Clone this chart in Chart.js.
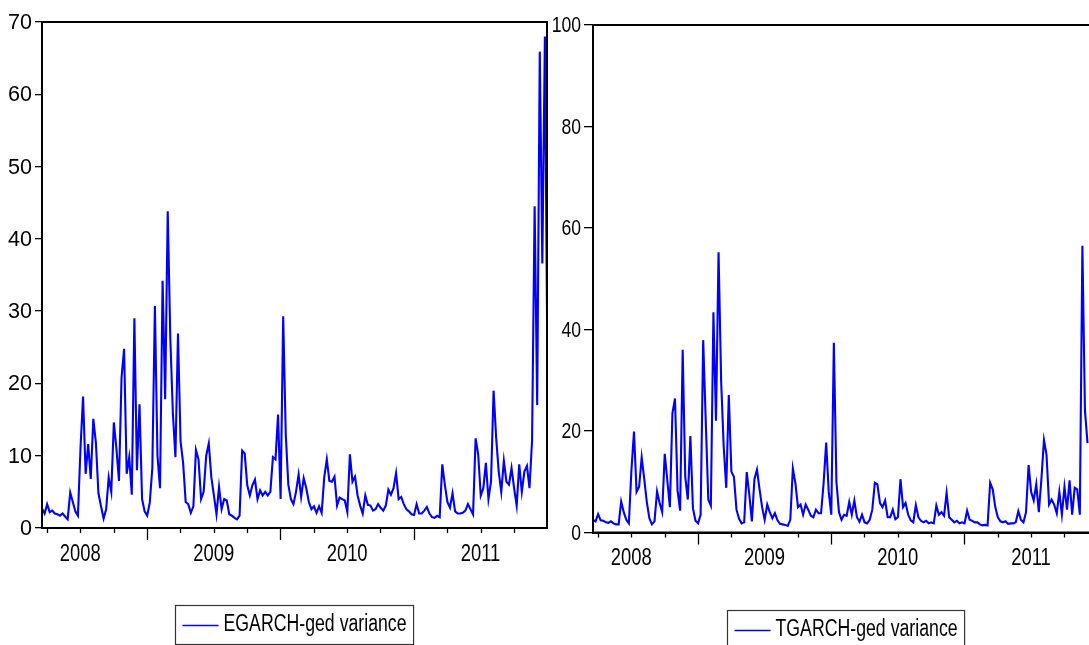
<!DOCTYPE html>
<html>
<head>
<meta charset="utf-8">
<script src="https://cdn.jsdelivr.net/npm/chart.js@4.4.0/dist/chart.umd.min.js"></script>
<style>
  html, body { margin: 0; padding: 0; background: #fff; overflow: hidden; width: 1089px; height: 645px; }
  canvas { position: absolute; top: 0; }
  #egarchChart { left: 0; }
  #tgarchChart { left: 550px; }
</style>
</head>
<body>
<canvas id="egarchChart" width="552" height="645"></canvas>
<canvas id="tgarchChart" width="560" height="645"></canvas>
<script>
// weekly observations, first one in mid Sept 2007
const startYear = 2007.713;
const weekStep = 1 / 52;
const endYear = 2011.498;

const yearTicks = [2008, 2009, 2010, 2011];
const egarchTicks = [0, 10, 20, 30, 40, 50, 60, 70];
const tgarchTicks = [0, 20, 40, 60, 80, 100];

const egarchVariance = [
  2.7, 2.0, 3.3, 2.2, 2.4, 2.0, 1.9, 1.7, 2.0, 1.6,
  1.2, 4.9, 3.6, 2.3, 1.7, 11.0, 18.2, 7.5, 11.6, 6.8,
  15.1, 11.8, 4.8, 3.0, 1.3, 2.6, 7.0, 5.0, 14.6, 11.0,
  6.5, 20.8, 24.8, 7.5, 9.8, 4.6, 29.0, 8.0, 17.1, 4.0,
  2.3, 1.7, 3.5, 8.3, 30.7, 10.0, 5.5, 34.2, 17.8, 43.8,
  26.4, 15.9, 9.8, 26.9, 12.0, 9.0, 3.6, 3.3, 2.1, 3.0,
  10.8, 9.5, 4.0, 5.0, 10.0, 11.7, 7.0, 4.5, 1.9, 5.7,
  2.6, 4.0, 3.8, 1.9, 1.7, 1.4, 1.2, 1.7, 10.7, 10.3,
  5.9, 4.5, 5.9, 6.7, 4.0, 5.2, 4.5, 5.0, 4.5, 5.0,
  9.8, 9.5, 15.7, 4.0, 29.3, 13.0, 6.0, 4.0, 3.3, 5.0,
  7.4, 4.3, 6.9, 5.5, 3.6, 2.6, 3.0, 2.1, 3.0, 2.1,
  7.0, 9.5, 6.5, 6.4, 7.1, 3.1, 4.2, 4.0, 3.8, 2.2,
  10.2, 6.4, 7.1, 4.5, 3.1, 2.0, 4.5, 3.2, 3.1, 2.4,
  2.6, 3.3, 2.8, 2.4, 3.1, 5.3, 4.6, 5.5, 7.6, 4.0,
  4.3, 3.3, 2.6, 2.3, 1.9, 1.8, 3.3, 2.0, 2.0, 2.4,
  2.9, 2.0, 1.5, 1.4, 1.7, 1.5, 8.8, 6.0, 3.6, 2.8,
  4.8, 2.3, 2.0, 2.0, 2.1, 2.4, 3.3, 2.6, 1.9, 12.4,
  10.2, 4.5, 5.5, 9.0, 4.0, 6.4, 19.0, 12.5, 7.8, 5.0,
  9.3, 6.4, 6.0, 8.3, 5.5, 3.1, 8.8, 5.0, 7.8, 8.6,
  5.5, 12.1, 44.5, 17.0, 65.9, 36.6, 68.0, 21.2
];

const tgarchVariance = [
  2.5, 2.2, 3.6, 2.4, 2.3, 2.0, 1.9, 2.2, 1.8, 1.6,
  1.6, 6.1, 4.0, 2.5, 1.8, 12.3, 19.9, 8.0, 9.0, 14.8,
  10.5, 6.0, 2.8, 1.6, 2.2, 8.1, 5.8, 4.0, 15.5, 10.3,
  5.0, 23.5, 26.4, 8.3, 4.3, 36.0, 11.0, 6.5, 19.0, 4.8,
  2.3, 1.8, 3.5, 37.9, 22.0, 6.5, 5.3, 43.4, 22.0, 55.2,
  30.0, 17.0, 8.8, 27.1, 12.0, 11.0, 4.5, 2.7, 1.8, 2.0,
  11.9, 7.5, 2.2, 10.5, 12.4, 8.5, 5.0, 2.5, 5.5, 4.0,
  2.8, 3.8, 2.4, 1.7, 1.6, 1.5, 1.3, 2.5, 12.6, 9.7,
  5.0, 5.5, 3.5, 5.5, 4.5, 3.3, 3.0, 4.5, 3.8, 3.8,
  9.7, 17.7, 8.0, 3.5, 37.4, 10.0, 4.0, 2.5, 3.5, 3.3,
  6.0, 3.5, 6.3, 3.0, 2.1, 3.5, 2.0, 1.8, 2.5, 4.5,
  9.8, 9.5, 5.8, 5.0, 6.3, 3.0, 3.0, 4.5, 2.6, 3.0,
  10.5, 5.0, 5.8, 3.5, 2.4, 2.0, 5.4, 3.0, 2.3, 2.0,
  2.3, 1.8, 2.0, 1.8, 5.3, 3.5, 4.0, 3.3, 7.8, 3.0,
  2.5, 2.0, 2.3, 1.8, 2.0, 1.8, 4.3, 2.5, 2.3, 2.0,
  2.0, 1.6, 1.4, 1.5, 1.4, 9.8, 8.5, 5.0, 3.0, 2.2,
  2.0, 2.2, 1.7, 1.8, 1.8, 2.0, 4.2, 2.5, 2.0, 4.0,
  13.3, 8.0, 6.3, 9.5, 4.0, 10.5, 18.2, 15.3, 5.5, 6.5,
  5.5, 3.8, 8.0, 3.5, 9.0, 4.5, 10.3, 3.5, 8.8, 8.5,
  3.5, 56.5, 24.0, 17.6
];

const fontFam = '"Liberation Sans", Arial, sans-serif';

// text squeezed sideways, the eviews export looks condensed
function squeezedText(ctx, text, x, y, align, sx) {
  ctx.save();
  ctx.translate(x, y);
  ctx.scale(sx, 1);
  ctx.textAlign = align;
  ctx.fillText(text, 0, 0);
  ctx.restore();
}

// box round the plot, tick labels, quarter tick marks and the boxed legend
const evFrame = {
  id: 'evFrame',
  afterDraw(chart, args, opts) {
    const ctx = chart.ctx;
    const ca = chart.chartArea;
    const xs = chart.scales.x;
    const ys = chart.scales.y;
    ctx.save();
    ctx.strokeStyle = '#000';
    ctx.lineWidth = 2;
    ctx.strokeRect(ca.left, ca.top, ca.right - ca.left, ca.bottom - ca.top);

    ctx.lineWidth = 1.3;
    for (let q = Math.ceil(xs.min * 4) / 4; q <= xs.max; q += 0.25) {
      const px = Math.round(xs.getPixelForValue(q)) + 0.5;
      const half = Math.abs((q % 1) - 0.5) < 1e-6;
      ctx.beginPath();
      ctx.moveTo(px, ca.bottom);
      ctx.lineTo(px, ca.bottom + (half ? 12 : 5));
      ctx.stroke();
    }

    ctx.fillStyle = '#000';
    ctx.textBaseline = 'middle';
    ctx.font = '22px ' + fontFam;
    ys.ticks.forEach(t => {
      squeezedText(ctx, String(t.value), ca.left - opts.tickLen - 3, ys.getPixelForValue(t.value) + 1, 'right', opts.ySqueeze);
    });
    ctx.font = '23px ' + fontFam;
    xs.ticks.forEach(t => {
      squeezedText(ctx, String(t.value), xs.getPixelForValue(t.value), ca.bottom + opts.xLabelGap, 'center', 0.8);
    });

    const label = chart.data.datasets[0].label;
    ctx.font = '23px ' + fontFam;
    const tw = ctx.measureText(label).width * 0.77;
    const boxW = 7 + 36 + 5 + tw + 7;
    const boxH = 39;
    const cx = (ca.left + ca.right) / 2;
    const bx = Math.round(cx - boxW / 2) + 0.5;
    const by = Math.round(ca.bottom + opts.legendGap) + 0.5;
    ctx.lineWidth = 1.2;
    ctx.strokeStyle = '#333';
    ctx.strokeRect(bx, by, boxW, boxH);
    ctx.strokeStyle = '#0000ff';
    ctx.lineWidth = 1.6;
    ctx.beginPath();
    ctx.moveTo(bx + 7, by + 20);
    ctx.lineTo(bx + 43, by + 20);
    ctx.stroke();
    ctx.fillStyle = '#000';
    ctx.textBaseline = 'middle';
    squeezedText(ctx, label, bx + 48, by + 19, 'left', 0.77);
    ctx.restore();
  }
};

function makeChart(id, label, values, yTicks, cfg) {
  const points = values.map((v, i) => ({ x: startYear + i * weekStep, y: v }));
  return new Chart(document.getElementById(id), {
    type: 'line',
    data: {
      datasets: [{
        label: label,
        data: points,
        borderColor: '#0000ff',
        borderWidth: 2.1,
        pointRadius: 0,
        tension: 0,
        fill: false
      }]
    },
    options: {
      responsive: false,
      animation: false,
      devicePixelRatio: 1,
      layout: { padding: { top: cfg.top, right: cfg.right, left: 0, bottom: 0 } },
      plugins: {
        legend: { display: false },
        tooltip: { enabled: false },
        evFrame: {
          legendGap: 77, tickLen: cfg.tickLen,
          ySqueeze: cfg.ySqueeze, xLabelGap: cfg.xLabelGap
        }
      },
      scales: {
        x: {
          type: 'linear',
          min: startYear,
          max: endYear,
          afterBuildTicks: s => { s.ticks = yearTicks.map(v => ({ value: v })); },
          afterFit: s => { s.height = cfg.xHeight; },
          grid: { drawOnChartArea: false, drawTicks: false },
          border: { color: '#000', width: 2 },
          ticks: { autoSkip: false, maxRotation: 0, color: 'rgba(0,0,0,0)', callback: v => String(v) }
        },
        y: {
          min: 0,
          max: yTicks[yTicks.length - 1],
          afterBuildTicks: s => { s.ticks = yTicks.map(v => ({ value: v })); },
          afterFit: s => { s.width = cfg.yWidth; },
          grid: { drawOnChartArea: false, tickLength: cfg.tickLen, color: '#000', lineWidth: 1.3 },
          border: { color: '#000', width: 2 },
          ticks: { color: 'rgba(0,0,0,0)' }
        }
      }
    },
    plugins: [evFrame]
  });
}

makeChart('egarchChart', 'EGARCH-ged variance', egarchVariance, egarchTicks, {
  top: 22, right: 5, xHeight: 117, yWidth: 42, tickLen: 7, ySqueeze: 0.98, xLabelGap: 27
});

makeChart('tgarchChart', 'TGARCH-ged variance', tgarchVariance, tgarchTicks, {
  top: 25, right: 12.7, xHeight: 112.5, yWidth: 43, tickLen: 9, ySqueeze: 0.8, xLabelGap: 26
});
</script>
</body>
</html>
